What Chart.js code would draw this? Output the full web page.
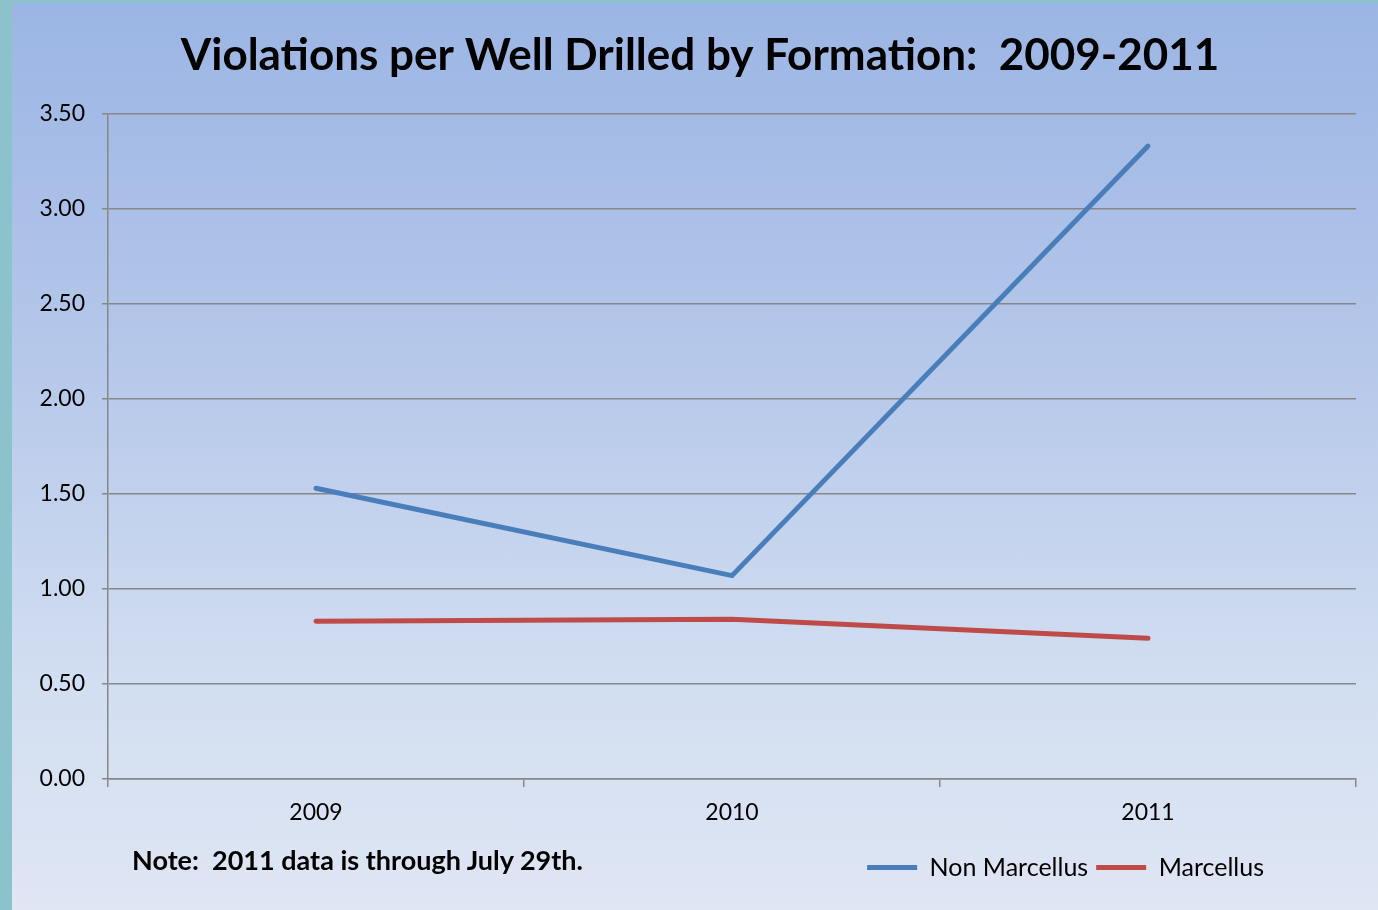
<!DOCTYPE html>
<html>
<head>
<meta charset="utf-8">
<script src="https://cdn.jsdelivr.net/npm/chart.js@4"></script>
<style>
  html, body { margin: 0; padding: 0; }
  body {
    width: 1378px; height: 910px; overflow: hidden; position: relative;
    background: #8cc2cc;
  }
  #panel {
    position: absolute; left: 12px; top: 3px; right: 0; bottom: 0;
    background: linear-gradient(to bottom, #9bb5e4 0%, #b6c8ea 40%, #d2def1 75%, #dfe6f4 100%);
  }
  #wrap { position: absolute; left: 0; top: 0; width: 1378px; height: 910px; }
  #note {
    position: absolute; left: 132px; top: 843px;
    font: bold 27px Lato, sans-serif; color: #000; white-space: nowrap;
  }
</style>
</head>
<body>
<div id="panel"></div>
<div id="wrap"><canvas id="chart"></canvas></div>
<div id="note">Note:&nbsp; 2011 data is through July 29th.</div>
<script>
const years = ['2009', '2010', '2011'];
const nonMarcellus = [1.53, 1.07, 3.33];
const marcellus = [0.83, 0.84, 0.74];
const chartTitle = 'Violations per Well Drilled by Formation:  2009-2011';

const blue = '#4a7ebb';
const red = '#be4b48';
const gridColor = '#878787';

// nudge title right and legend in from the right edge like the original
const boxShift = {
    id: 'boxShift',
    afterLayout(chart) {
        chart.titleBlock.left = chart.titleBlock.left + 44;
        chart.legend.right = chart.legend.right - 84;
    }
};

const chart = new Chart(document.getElementById('chart'), {
    type: 'line',
    data: {
        labels: years,
        datasets: [
            {
                label: 'Non Marcellus',
                data: nonMarcellus,
                borderColor: blue,
                backgroundColor: blue,
                borderWidth: 5,
                borderCapStyle: 'round',
                pointRadius: 0,
                pointStyle: 'line',
                tension: 0
            },
            {
                label: 'Marcellus',
                data: marcellus,
                borderColor: red,
                backgroundColor: red,
                borderWidth: 5,
                borderCapStyle: 'round',
                pointRadius: 0,
                pointStyle: 'line',
                tension: 0
            }
        ]
    },
    options: {
        responsive: true,
        maintainAspectRatio: false,
        animation: false,
        layout: { padding: { left: 0, right: 22, top: 0, bottom: 20 } },
        plugins: {
            title: {
                display: true,
                text: chartTitle,
                color: '#000',
                font: { family: 'Lato', size: 44, weight: 'bold' },
                padding: { top: 29, bottom: 32 }
            },
            legend: {
                position: 'bottom',
                align: 'end',
                labels: {
                    usePointStyle: true,
                    pointStyleWidth: 50,
                    color: '#000',
                    font: { family: 'Lato', size: 25 },
                    padding: 8
                }
            },
            tooltip: { enabled: false }
        },
        scales: {
            x: {
                offset: true,
                afterFit(scale) { scale.height = 68; },
                grid: {
                    offset: true,
                    drawOnChartArea: false,
                    drawTicks: true,
                    tickLength: 8,
                    color: gridColor,
                    lineWidth: 1.5
                },
                border: { color: gridColor, width: 1.5 },
                ticks: {
                    color: '#000',
                    font: { family: 'Lato', size: 23 },
                    padding: 12
                }
            },
            y: {
                min: 0,
                max: 3.5,
                afterFit(scale) { scale.width = 108; },
                grid: {
                    color: gridColor,
                    lineWidth: 1.5,
                    tickLength: 6
                },
                border: { color: gridColor, width: 1.5 },
                ticks: {
                    stepSize: 0.5,
                    color: '#000',
                    font: { family: 'Lato', size: 23 },
                    padding: 17,
                    callback: v => v.toFixed(2)
                }
            }
        }
    },
    plugins: [boxShift]
});
</script>
</body>
</html>
